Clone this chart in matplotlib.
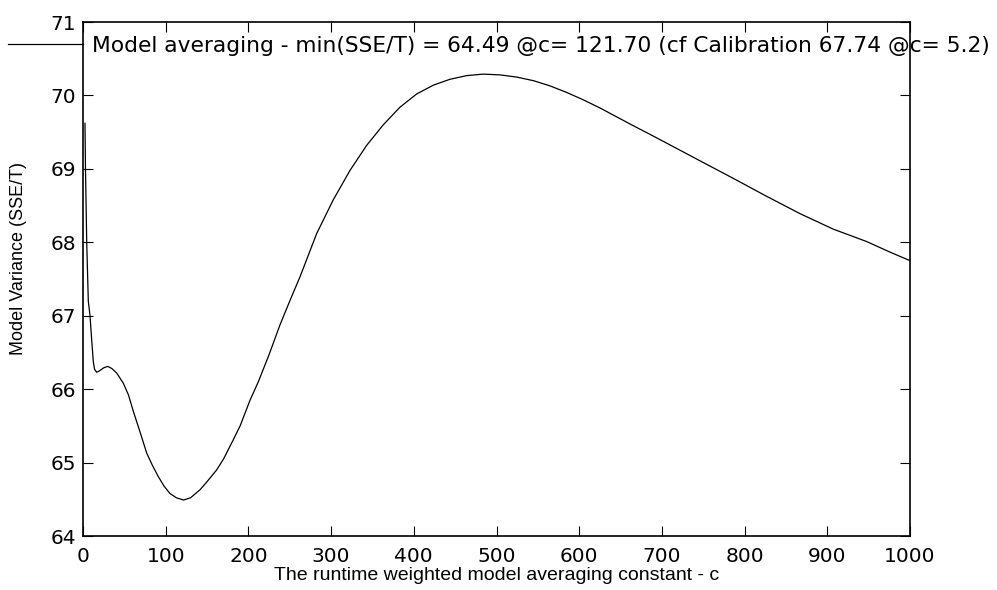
import matplotlib
matplotlib.use("Agg")
import matplotlib.pyplot as plt
import numpy as np

# runtime weighted model averaging constant c, and SSE/T
c_vals = [2.4, 3.0, 4.5, 6.4, 8.5, 10.5, 12.5, 14, 16.5, 20, 25, 30, 35, 40.7,
          48.8, 55, 60.8, 70, 77, 84, 91, 98, 105, 113, 121.5, 130, 141.5,
          150, 161.6, 170, 181.7, 190, 202, 212, 225, 238, 250, 262.4, 282.6,
          302.7, 322.9, 343, 363.1, 383.3, 403.5, 423.6, 443.8, 464, 484, 504,
          524.4, 545, 564.7, 585, 605, 625, 645, 665, 685.6, 705.8, 746, 786.4,
          826, 867, 907, 947.6, 975, 1000]
sse_vals = [69.62, 69.0, 68.0, 67.2, 67.0, 66.67, 66.37, 66.27, 66.23, 66.25,
            66.29, 66.31, 66.28, 66.22, 66.08, 65.92, 65.70, 65.38, 65.13,
            64.96, 64.81, 64.68, 64.58, 64.52, 64.49, 64.52, 64.63, 64.74,
            64.90, 65.05, 65.31, 65.5, 65.85, 66.10, 66.47, 66.87, 67.2, 67.53,
            68.12, 68.58, 68.98, 69.32, 69.60, 69.84, 70.02, 70.14, 70.22,
            70.27, 70.29, 70.28, 70.25, 70.20, 70.13, 70.04, 69.94, 69.83,
            69.71, 69.59, 69.47, 69.35, 69.11, 68.87, 68.63, 68.39, 68.18,
            68.01, 67.87, 67.75]

legend_label = ('Model averaging - min(SSE/T) = 64.49 @c= 121.70 '
                '(cf Calibration 67.74 @c= 5.2)')
x_ticks = np.arange(0, 1001, 100)
y_ticks = np.arange(64, 72, 1)

plt.rcParams['font.family'] = ['Liberation Sans', 'DejaVu Sans']
wide = ['DejaVu Sans']  # wider glyphs, the reference text is stretched

fig = plt.figure(figsize=(9.97, 5.9), dpi=100)
ax = fig.add_axes([83/997, 1 - 536/590, (910 - 83)/997, (536 - 22)/590])

line, = ax.plot(c_vals, sse_vals, color='black', linewidth=0.9)

ax.set_xlim(0, 1000)
ax.set_ylim(64, 71)
ax.set_xticks(x_ticks)
ax.set_yticks(y_ticks)
ax.tick_params(direction='in', length=7, width=0.8, top=True, right=True)
ax.tick_params(axis='x', pad=8)
ax.tick_params(axis='y', pad=5)
for lab in ax.get_xticklabels() + ax.get_yticklabels():
    lab.set_family(wide)
    lab.set_fontsize(14.5)
for s in ax.spines.values():
    s.set_linewidth(1.2)

ax.set_xlabel('The runtime weighted model averaging constant - c', fontsize=14)
ax.xaxis.set_label_coords(0.5, -0.06)
ax.set_ylabel('Model Variance (SSE/T)', fontsize=13)
ax.yaxis.set_label_coords(-0.068, 0.54)

fig.legend([line], [legend_label], loc='center left',
           bbox_to_anchor=(8/997, 1 - 46/590), frameon=False,
           prop={'family': wide, 'size': 15.7},
           handlelength=75/21.8, handletextpad=0.4, borderpad=0,
           borderaxespad=0)

fig.savefig('out.png', dpi=100)
